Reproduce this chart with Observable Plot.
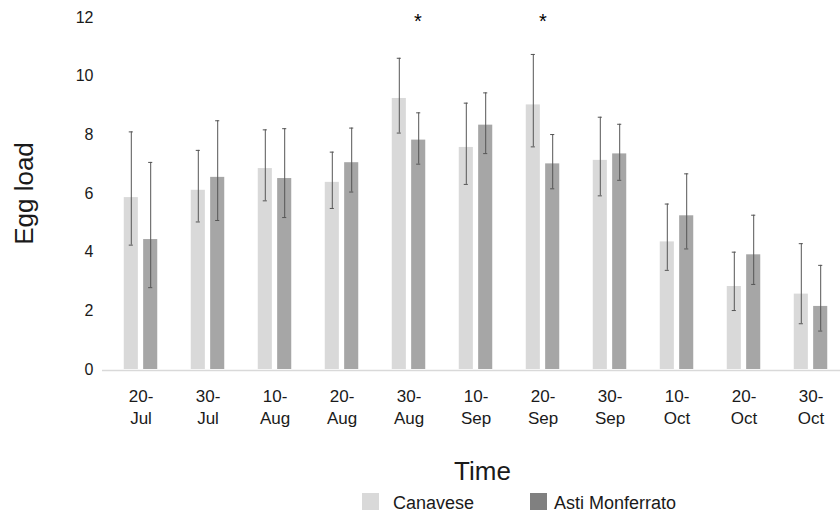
<!DOCTYPE html>
<html>
<head>
<meta charset="utf-8">
<script src="https://cdn.jsdelivr.net/npm/d3@7"></script>
<script src="https://cdn.jsdelivr.net/npm/@observablehq/plot@0.6"></script>
<style>
  html, body { margin: 0; padding: 0; background: #fff; }
  body { width: 840px; height: 519px; overflow: hidden; font-family: "Liberation Sans", Arial, sans-serif; }
  #legend { position: relative; width: 840px; height: 33px; color: #1a1a1a; font-size: 18px; }
  #legend .sw { position: absolute; width: 17px; height: 17px; }
  #legend .lb { position: absolute; line-height: 20px; }
</style>
</head>
<body>
<div id="chart"></div>
<div id="legend"></div>
<script>
const dates = ["20-Jul","30-Jul","10-Aug","20-Aug","30-Aug","10-Sep","20-Sep","30-Sep","10-Oct","20-Oct","30-Oct"];
const seriesNames = ["Canavese", "Asti Monferrato"];
const canMean = [5.86, 6.11, 6.85, 6.38, 9.24, 7.57, 9.02, 7.13, 4.35, 2.83, 2.57];
const canLo   = [4.24, 5.03, 5.75, 5.49, 8.06, 6.31, 7.59, 5.92, 3.38, 2.01, 1.56];
const canHi   = [8.10, 7.47, 8.17, 7.41, 10.61, 9.08, 10.74, 8.60, 5.64, 4.00, 4.29];
const astiMean = [4.43, 6.55, 6.51, 7.05, 7.82, 8.33, 7.01, 7.35, 5.24, 3.91, 2.15];
const astiLo   = [2.79, 5.08, 5.18, 6.05, 7.00, 7.36, 6.16, 6.45, 4.11, 2.90, 1.31];
const astiHi   = [7.06, 8.48, 8.21, 8.23, 8.75, 9.43, 8.01, 8.36, 6.67, 5.26, 3.55];
const yTicks = [0, 2, 4, 6, 8, 10, 12];
const significant = ["30-Aug", "20-Sep"];

const colors = {bar: ["#d9d9d9", "#a6a6a6"], legend: ["#d9d9d9", "#808080"], err: "#555555"};

const can = dates.map((d, i) => ({date: d, mean: canMean[i], lo: canLo[i], hi: canHi[i]}));
const asti = dates.map((d, i) => ({date: d, mean: astiMean[i], lo: astiLo[i], hi: astiHi[i]}));

const W = 840, H = 486;
const mLeft = 102, mTop = 17, yBase = 369;
const band = 67.9;
const barW = 15, gap = 4.4, capW = 5;
const canL = band / 2 - gap / 2 - barW;
const astL = band / 2 + gap / 2;
const canC = -(gap / 2 + barW / 2), astC = gap / 2 + barW / 2;

const capInsets = c => ({insetLeft: band / 2 + c - capW / 2, insetRight: band / 2 - c - capW / 2});

const font = '"Liberation Sans", Arial, sans-serif';

const chart = Plot.plot({
  width: W,
  height: H,
  marginLeft: mLeft,
  marginRight: 0,
  marginTop: mTop,
  marginBottom: H - yBase,
  style: {fontFamily: font, color: "#1a1a1a", background: "#fff", overflow: "visible"},
  x: {type: "band", domain: dates, range: [mLeft, mLeft + band * dates.length], padding: 0},
  y: {domain: [0, 12]},
  marks: [
    Plot.barY(can, {x: "date", y: "mean", fill: colors.bar[0], insetLeft: canL, insetRight: band - canL - barW}),
    Plot.barY(asti, {x: "date", y: "mean", fill: colors.bar[1], insetLeft: astL, insetRight: band - astL - barW}),
    Plot.ruleY([0], {stroke: "#d9d9d9", strokeWidth: 1.6, dy: 1}),
    Plot.ruleX(can, {x: "date", y1: "lo", y2: "hi", dx: canC, stroke: colors.err, strokeWidth: 1}),
    Plot.ruleX(asti, {x: "date", y1: "lo", y2: "hi", dx: astC, stroke: colors.err, strokeWidth: 1}),
    Plot.tickY(can, {x: "date", y: "lo", stroke: colors.err, strokeWidth: 1, ...capInsets(canC)}),
    Plot.tickY(can, {x: "date", y: "hi", stroke: colors.err, strokeWidth: 1, ...capInsets(canC)}),
    Plot.tickY(asti, {x: "date", y: "lo", stroke: colors.err, strokeWidth: 1, ...capInsets(astC)}),
    Plot.tickY(asti, {x: "date", y: "hi", stroke: colors.err, strokeWidth: 1, ...capInsets(astC)}),
    Plot.axisY({ticks: yTicks, tickSize: 0, tickPadding: 9, label: null, fontSize: 16, fill: "#1a1a1a"}),
    Plot.axisX({tickSize: 0, tickPadding: 17, label: null, fontSize: 17, lineHeight: 1.3, fill: "#1a1a1a",
      tickFormat: d => d.replace("-", "-\n")}),
    Plot.text(significant.filter(d => d === "30-Aug"), {x: d => d, frameAnchor: "top", text: () => "*", fontSize: 20, dx: 9, dy: -4, fill: "#000"}),
    Plot.text(significant.filter(d => d !== "30-Aug"), {x: d => d, frameAnchor: "top", text: () => "*", fontSize: 20, dy: -4, fill: "#000"}),
    Plot.text(["Egg load"], {frameAnchor: "left", rotate: -90, dx: -78, fontSize: 26, fill: "#1a1a1a", textAnchor: "middle", lineAnchor: "middle"}),
    Plot.text(["Time"], {frameAnchor: "bottom", dx: 11, dy: 102, fontSize: 26, fill: "#1a1a1a", lineAnchor: "middle"})
  ]
});
document.getElementById("chart").appendChild(chart);

const legend = document.getElementById("legend");
const legendPos = [{sw: 362, lb: 393}, {sw: 530, lb: 554}];
seriesNames.forEach((name, i) => {
  const sw = document.createElement("div");
  sw.className = "sw";
  sw.style.left = legendPos[i].sw + "px";
  sw.style.top = "7px";
  sw.style.background = colors.legend[i];
  legend.appendChild(sw);
  const lb = document.createElement("div");
  lb.className = "lb";
  lb.style.left = legendPos[i].lb + "px";
  lb.style.top = "7px";
  lb.textContent = name;
  legend.appendChild(lb);
});
</script>
</body>
</html>
